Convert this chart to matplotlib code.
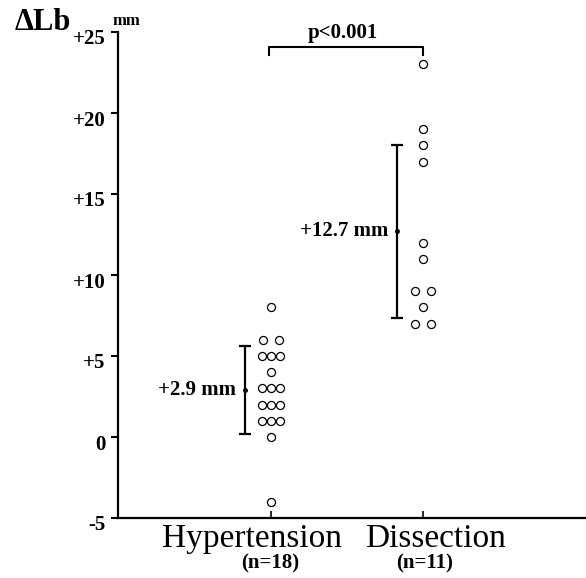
import matplotlib

matplotlib.use("Agg")
import matplotlib.pyplot as plt
import matplotlib.transforms as mtransforms
from collections import Counter

# values (mm)
groups = ["Hypertension", "Dissection"]
group_n = ["(n=18)", "(n=11)"]
hyp_values = [8, 6, 6, 5, 5, 5, 4, 3, 3, 3, 2, 2, 2, 1, 1, 1, 0, -4]
dis_values = [23, 19, 18, 17, 12, 11, 9, 9, 8, 7, 7]
means = [2.9, 12.7]
sds = [2.7, 5.35]
mean_labels = ["+2.9 mm", "+12.7 mm"]
p_label = "p<0.001"
yticks = [-5, 0, 5, 10, 15, 20, 25]
ytick_labels = ["-5", "0", "+5", "+10", "+15", "+20", "+25"]

plt.rcParams["font.family"] = ["Liberation Serif", "DejaVu Serif"]

W, H = 586, 578
fig = plt.figure(figsize=(W / 100, H / 100), dpi=100)
ax = fig.add_axes([118 / W, 60 / H, 468 / W, 486 / H])

px = 1 / 152  # one pixel in x data units
ax.set_xlim(1 - 153 * px, 2 + 163 * px)
ax.set_ylim(-5, 25)


def spread(values, x0):
    counts = Counter(values)
    seen = Counter()
    xs = []
    for v in values:
        n = counts[v]
        step = 16 * px if n == 2 else 9 * px
        xs.append(x0 + (seen[v] - (n - 1) / 2) * step)
        seen[v] += 1
    return xs


for x0, vals in zip([1, 2], [hyp_values, dis_values]):
    ax.plot(spread(vals, x0), vals, "o", ms=5.8, mfc="white", mec="black",
            mew=0.9, clip_on=False, zorder=3)

# mean +- SD bars to the left of each column
bar_x = [1 - 26 * px, 2 - 26 * px]
for bx, m, s, lab in zip(bar_x, means, sds, mean_labels):
    ax.errorbar([bx], [m], yerr=[s], fmt="o", ms=2.5, color="black",
                elinewidth=1.6, capsize=4, capthick=1.6)
    ax.text(bx - 9 * px, m, lab, ha="right", va="center", fontsize=15,
            fontweight="bold")

# significance bracket
ax.plot([1 - 2 * px, 1 - 2 * px, 2, 2], [23.6, 24.05, 24.05, 23.6],
        color="black", lw=1.5, clip_on=False)
ax.text(1 + 72 * px, 24.3, p_label, ha="center", va="bottom", fontsize=15,
        fontweight="bold")

ax.spines["top"].set_visible(False)
ax.spines["right"].set_visible(False)
ax.spines["left"].set_linewidth(1.6)
ax.spines["bottom"].set_linewidth(1.6)

ax.set_yticks(yticks)
ax.set_yticklabels(ytick_labels, fontsize=15, fontweight="bold")
ax.tick_params(axis="y", direction="out", length=5, width=1.5, pad=4)
shift = mtransforms.ScaledTranslation(0, -5 / 100, fig.dpi_scale_trans)
for lab in ax.get_yticklabels():
    lab.set_transform(lab.get_transform() + shift)

ax.set_xticks([1, 2])
ax.set_xticklabels([])
ax.tick_params(axis="x", direction="in", length=5, width=1.2)

# category names sit a little off their ticks in the original
name_x = [1 - 19 * px, 2 + 12 * px]
n_x = [1 - 1 * px, 2 + 2 * px]
for nx, cx, name, n in zip(name_x, n_x, groups, group_n):
    ax.text(nx, -6.78, name, ha="center", va="baseline", fontsize=24)
    ax.text(cx, -7.8, n, ha="center", va="center", fontsize=15,
            fontweight="bold")

fig.text(15 / W, 1 - 30 / H, "\u0394Lb", fontsize=22, fontweight="bold",
         va="baseline")
fig.text(112 / W, 1 - 25 / H, "mm", fontsize=12, fontweight="bold",
         va="baseline")

fig.savefig("out.png", dpi=100)
